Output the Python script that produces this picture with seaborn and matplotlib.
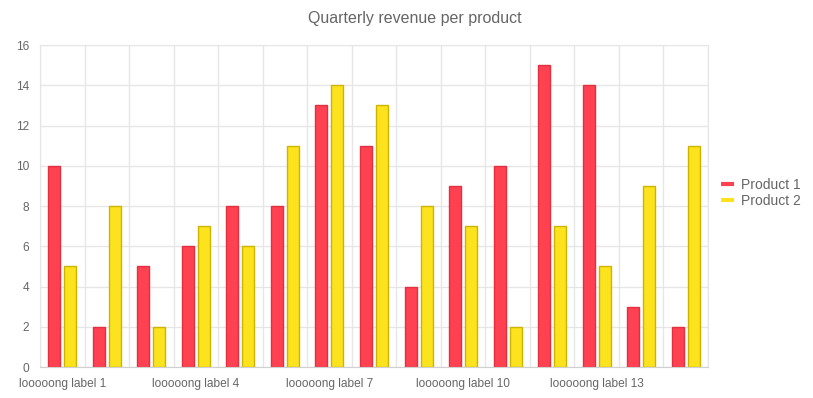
import matplotlib
matplotlib.use("Agg")
import matplotlib.pyplot as plt
from matplotlib.lines import Line2D
import pandas as pd
import seaborn as sns

# values
categories = [f"l{'o' * 5}ng label {i}" for i in range(1, 16)]
product_1 = [10, 2, 5, 6, 8, 8, 13, 11, 4, 9, 10, 15, 14, 3, 2]
product_2 = [5, 8, 2, 7, 6, 11, 14, 13, 8, 7, 2, 7, 5, 9, 11]
series = ["Product 1", "Product 2"]
fills = ["#ff4152", "#fce31e"]
edges = ["#e3303f", "#cdb400"]

df = pd.DataFrame({
    "label": categories * 2,
    "value": product_1 + product_2,
    "product": [series[0]] * len(categories) + [series[1]] * len(categories),
})

sns.set_style("white")
plt.rcParams["font.family"] = ["Liberation Sans", "DejaVu Sans"]

fig = plt.figure(figsize=(8.13, 3.98), dpi=100)
ax = fig.add_axes([40 / 813, 1 - 367 / 398, 668 / 813, 322 / 398])

sns.barplot(data=df, x="label", y="value", hue="product", hue_order=series,
            palette=fills, saturation=1, width=0.72, gap=0.25, ax=ax,
            legend=False, linewidth=1)
for patch_group, edge in zip(ax.containers, edges):
    for bar in patch_group:
        bar.set_edgecolor(edge)

n = len(categories)
ax.set_xlim(-0.5, n - 0.5)
ax.set_ylim(0, 16)
ax.set_yticks(range(0, 17, 2))
ax.set_xticks(range(0, n, 3))
ax.set_xticklabels([categories[i] for i in range(0, n, 3)])
ax.set_xticks([i - 0.5 for i in range(n + 1)], minor=True)
ax.set_xlabel("")
ax.set_ylabel("")

grid_c = "#e6e6e6"
ax.grid(axis="y", color=grid_c, linewidth=1)
ax.grid(axis="x", which="minor", color=grid_c, linewidth=1)
ax.set_axisbelow(True)
for side in ax.spines.values():
    side.set_color(grid_c)
ax.spines["bottom"].set_color("#d0d0d0")
ax.tick_params(axis="x", which="major", length=0, pad=8, labelsize=8.6, labelcolor="#666666")
ax.tick_params(axis="x", which="minor", length=5, color=grid_c)
ax.tick_params(axis="y", length=6, color=grid_c, pad=2, labelsize=8.6, labelcolor="#666666")

fig.text(415 / 813, 1 - 18 / 398, "Quarterly revenue per product", ha="center", va="center",
         fontsize=11.5, color="#666666")

handles = [Line2D([0], [0], color=c, linewidth=3, solid_capstyle="butt") for c in fills]
fig.legend(handles, series, loc="center left", bbox_to_anchor=(708 / 813, 1 - 193 / 398),
           frameon=False, fontsize=10, labelcolor="#666666", handlelength=1.0,
           handletextpad=0.5, labelspacing=0.15)

fig.savefig("out.png", dpi=100)
